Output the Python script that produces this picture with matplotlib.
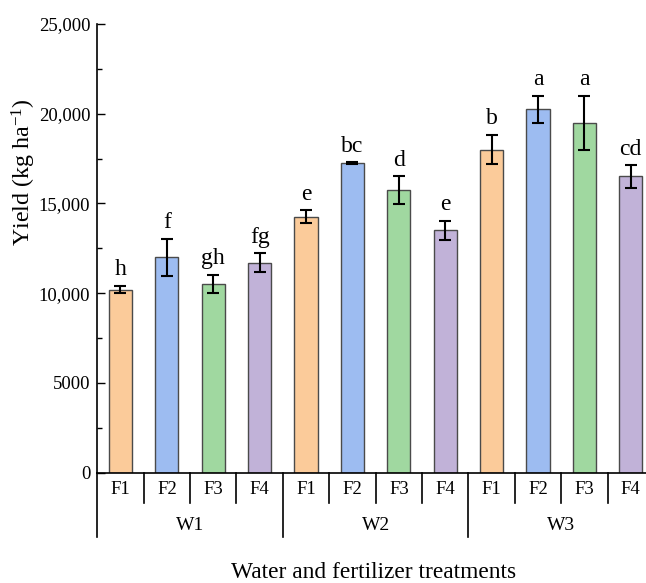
import matplotlib
matplotlib.use("Agg")
import matplotlib.pyplot as plt
import numpy as np

plt.rcParams['font.family'] = ['Liberation Serif', 'DejaVu Serif']
plt.rcParams['mathtext.fontset'] = 'custom'
plt.rcParams['mathtext.rm'] = 'Liberation Serif'
plt.rcParams['mathtext.it'] = 'Liberation Serif:italic'

water = ["W1", "W2", "W3"]
fert = ["F1", "F2", "F3", "F4"]
yield_vals = [10200, 12000, 10500, 11700,
              14250, 17250, 15750, 13500,
              18000, 20250, 19500, 16500]
yield_err = [220, 1030, 510, 510,
             370, 50, 760, 530,
             820, 760, 1500, 620]
letters = ["h", "f", "gh", "fg", "e", "bc", "d", "e", "b", "a", "a", "cd"]
colors = ["#FBCB9A", "#9DBCF1", "#A0D8A0", "#C1B2D8"]
ytick_vals = [0, 5000, 10000, 15000, 20000, 25000]
ytick_labels = ["0", "5000", "10,000", "15,000", "20,000", "25,000"]

fig = plt.figure(figsize=(6.46, 5.83), dpi=100)
W, H = 646, 583
left, right, top, bottom = 97.3, 654.0, 24.0, 472.5
ax = fig.add_axes([left / W, 1 - bottom / H, (right - left) / W, (bottom - top) / H])

n = len(yield_vals)
x = np.arange(n)
bar_colors = [colors[i % 4] for i in range(n)]
ax.bar(x, yield_vals, width=0.5, color=bar_colors, edgecolor="#4a4a4a", linewidth=1.0,
       yerr=yield_err, error_kw=dict(ecolor="black", elinewidth=1.5, capsize=4, capthick=1.5),
       zorder=2)

for xi, v, e, lab in zip(x, yield_vals, yield_err, letters):
    ax.annotate(lab, (xi, v + e), xytext=(0, 4), textcoords="offset points",
                ha="center", va="bottom", fontsize=17)

ax.set_xlim(-0.5, n - 0.5)
ax.set_ylim(0, 25000)
ax.set_yticks(ytick_vals)
ax.set_yticklabels(ytick_labels, fontsize=13.5)
ax.set_yticks(np.arange(2500, 25000, 5000), minor=True)
ax.tick_params(axis="y", which="major", direction="in", length=5.5, width=1.0, pad=5)
ax.tick_params(axis="y", which="minor", direction="in", length=3.5, width=1.0)
ax.set_xticks([])
for s in ["top", "right"]:
    ax.spines[s].set_visible(False)
ax.spines["left"].set_linewidth(1.2)
ax.spines["bottom"].set_linewidth(1.2)

trans = ax.get_xaxis_transform()
short_y = -(503.3 - bottom) / (bottom - top)
long_y = -(536.7 - bottom) / (bottom - top)
for b in range(n + 1):
    xb = b - 0.5
    yb = long_y if b % 4 == 0 else short_y
    ax.plot([xb, xb], [0, yb], transform=trans, color="black", lw=1.2, clip_on=False)

f_y = -(489 - bottom) / (bottom - top)
for i in range(n):
    ax.text(i, f_y, fert[i % 4], transform=trans, ha="center", va="center", fontsize=13.5)
w_y = -(526 - bottom) / (bottom - top)
for j, w in enumerate(water):
    ax.text(4 * j + 1.5, w_y, w, transform=trans, ha="center", va="center", fontsize=14)

fig.text(374 / W, 1 - 572 / H, "Water and fertilizer treatments", ha="center", va="center", fontsize=16.8)
fig.text(24 / W, 1 - 172 / H, r"Yield (kg ha$^{\mathregular{-1}}$)", rotation=90,
         ha="center", va="center", fontsize=17.3)

fig.savefig("out.png", dpi=100)
